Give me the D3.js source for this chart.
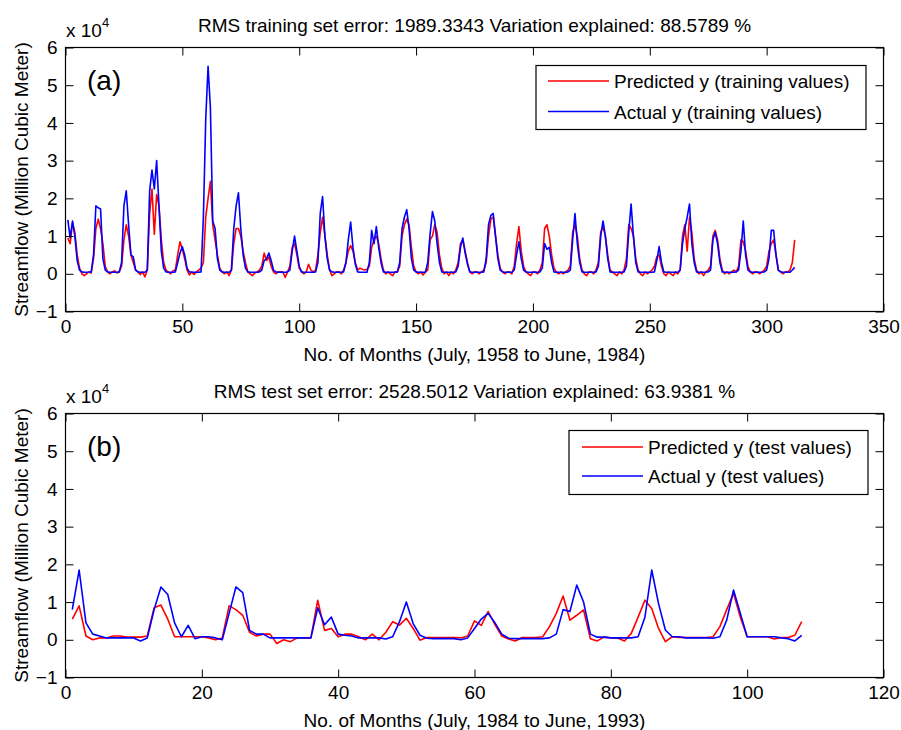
<!DOCTYPE html>
<html>
<head>
<meta charset="utf-8">
<script src="https://cdn.jsdelivr.net/npm/d3@7"></script>
<style>
  html, body { margin: 0; padding: 0; background: #fff; }
  svg { display: block; }
  text { font-family: "Liberation Sans", Arial, Helvetica, sans-serif; fill: #000; }
</style>
</head>
<body>
<svg id="chart" width="901" height="730"></svg>
<script>
// ---------------- DATA (values in units of 10^4 million cubic meter) ----------------
// Training period: July 1958 to June 1984, months 1..312 (rows of 12 months)
const trainActual = [
  1.43, 0.95, 1.40, 1.00, 0.35, 0.10, 0.05, 0.04, 0.04, 0.04, 0.05, 0.50,
  1.80, 1.75, 1.72, 0.40, 0.10, 0.05, 0.04, 0.04, 0.04, 0.04, 0.05, 0.30,
  1.80, 2.20, 1.30, 0.50, 0.45, 0.10, 0.05, 0.04, 0.04, 0.04, 0.10, 2.20,
  2.75, 2.25, 3.00, 1.80, 0.60, 0.15, 0.05, 0.04, 0.04, 0.04, 0.05, 0.30,
  0.55, 0.72, 0.50, 0.15, 0.05, 0.04, 0.04, 0.04, 0.04, 0.05, 1.50, 4.10,
  5.50, 4.40, 1.40, 1.20, 0.40, 0.10, 0.05, 0.04, 0.04, 0.04, 0.10, 1.20,
  1.80, 2.15, 1.20, 0.50, 0.15, 0.05, 0.04, 0.04, 0.04, 0.04, 0.05, 0.10,
  0.35, 0.40, 0.55, 0.35, 0.10, 0.05, 0.04, 0.04, 0.04, 0.04, 0.05, 0.10,
  0.60, 1.00, 0.60, 0.20, 0.05, 0.04, 0.04, 0.04, 0.04, 0.04, 0.05, 0.30,
  1.60, 2.05, 1.00, 0.40, 0.10, 0.05, 0.04, 0.04, 0.04, 0.04, 0.05, 0.30,
  0.90, 1.37, 0.70, 0.25, 0.05, 0.04, 0.04, 0.04, 0.04, 0.30, 1.15, 0.80,
  1.25, 0.70, 0.30, 0.05, 0.04, 0.04, 0.04, 0.04, 0.04, 0.05, 0.30, 1.20,
  1.50, 1.70, 1.20, 0.40, 0.10, 0.05, 0.04, 0.04, 0.04, 0.04, 0.30, 1.05,
  1.65, 1.40, 0.80, 0.30, 0.05, 0.04, 0.04, 0.04, 0.04, 0.04, 0.05, 0.20,
  0.70, 0.95, 0.55, 0.25, 0.05, 0.04, 0.04, 0.04, 0.04, 0.04, 0.05, 0.40,
  1.30, 1.55, 1.60, 1.00, 0.40, 0.10, 0.05, 0.04, 0.04, 0.04, 0.04, 0.10,
  0.50, 0.85, 0.40, 0.10, 0.05, 0.04, 0.04, 0.04, 0.04, 0.04, 0.05, 0.15,
  0.80, 0.65, 0.70, 0.30, 0.05, 0.04, 0.04, 0.04, 0.04, 0.04, 0.05, 0.10,
  0.90, 1.60, 0.80, 0.30, 0.05, 0.04, 0.04, 0.04, 0.04, 0.04, 0.05, 0.20,
  1.00, 1.40, 1.00, 0.40, 0.05, 0.04, 0.04, 0.04, 0.04, 0.04, 0.05, 0.20,
  1.10, 1.85, 1.00, 0.30, 0.05, 0.04, 0.04, 0.04, 0.04, 0.04, 0.04, 0.05,
  0.35, 0.72, 0.30, 0.05, 0.04, 0.04, 0.04, 0.04, 0.04, 0.04, 0.10, 0.80,
  1.20, 1.50, 1.85, 0.80, 0.30, 0.05, 0.04, 0.04, 0.04, 0.04, 0.05, 0.10,
  0.90, 1.10, 0.80, 0.30, 0.05, 0.04, 0.04, 0.04, 0.04, 0.04, 0.05, 0.10,
  0.60, 1.40, 0.50, 0.10, 0.05, 0.04, 0.04, 0.04, 0.04, 0.04, 0.05, 0.10,
  0.40, 1.15, 1.15, 0.50, 0.10, 0.05, 0.04, 0.04, 0.04, 0.04, 0.10, 0.17
];
const trainPredicted = [
  0.95, 0.80, 1.35, 1.10, 0.50, 0.15, 0.00, -0.05, 0.00, 0.05, 0.02, 0.40,
  1.20, 1.45, 1.20, 0.80, 0.20, 0.05, 0.00, 0.05, 0.08, 0.02, 0.05, 0.20,
  0.90, 1.30, 1.00, 0.50, 0.30, 0.10, 0.05, -0.02, 0.05, -0.08, 0.10, 1.60,
  2.25, 1.05, 2.10, 1.80, 0.90, 0.30, 0.10, 0.05, 0.00, 0.08, 0.10, 0.50,
  0.85, 0.65, 0.40, 0.10, -0.03, 0.05, -0.02, 0.05, 0.10, 0.15, 0.30, 1.50,
  2.00, 2.45, 1.30, 0.90, 0.50, 0.15, 0.05, 0.00, 0.05, -0.05, 0.10, 0.80,
  1.20, 1.20, 1.00, 0.60, 0.30, 0.05, 0.00, -0.05, 0.02, 0.05, 0.10, 0.20,
  0.55, 0.35, 0.45, 0.20, 0.05, 0.00, 0.05, 0.05, 0.05, -0.10, 0.05, 0.20,
  0.70, 0.80, 0.50, 0.15, 0.05, 0.00, 0.05, 0.25, 0.10, 0.05, 0.10, 0.50,
  1.10, 1.50, 1.00, 0.50, 0.10, -0.05, 0.00, 0.05, 0.05, 0.00, 0.10, 0.30,
  0.60, 0.75, 0.60, 0.30, 0.10, 0.15, 0.12, 0.10, 0.12, 0.20, 0.70, 0.90,
  1.00, 0.80, 0.40, 0.10, 0.00, 0.05, 0.00, -0.05, 0.05, 0.05, 0.20, 1.00,
  1.30, 1.45, 1.30, 0.70, 0.20, 0.05, 0.00, 0.05, -0.03, 0.05, 0.10, 0.90,
  1.00, 1.30, 1.10, 0.50, 0.15, 0.00, 0.05, -0.05, 0.05, 0.00, 0.10, 0.30,
  0.80, 0.90, 0.60, 0.30, 0.05, 0.00, 0.05, 0.05, 0.00, 0.05, 0.10, 0.30,
  1.00, 1.45, 1.50, 1.00, 0.50, 0.15, 0.05, 0.00, 0.05, 0.05, 0.00, 0.20,
  0.80, 1.25, 0.60, 0.20, 0.05, 0.00, -0.05, 0.05, 0.05, 0.00, 0.10, 0.30,
  1.20, 1.30, 1.00, 0.50, 0.15, 0.05, 0.00, 0.05, 0.00, 0.05, 0.10, 0.20,
  1.10, 1.30, 1.00, 0.40, 0.10, 0.00, -0.05, 0.05, 0.05, 0.00, 0.10, 0.30,
  1.10, 1.25, 1.00, 0.50, 0.10, 0.05, 0.00, -0.05, 0.05, 0.00, 0.10, 0.40,
  1.30, 1.20, 1.00, 0.40, 0.10, 0.00, -0.05, 0.05, 0.00, 0.05, 0.10, 0.20,
  0.45, 0.50, 0.20, 0.00, -0.05, 0.05, 0.00, -0.05, 0.05, 0.00, 0.10, 1.00,
  1.30, 0.60, 1.50, 1.10, 0.40, 0.10, 0.00, 0.05, -0.05, 0.05, 0.10, 0.20,
  1.00, 1.15, 0.90, 0.40, 0.10, 0.00, 0.05, 0.00, 0.05, 0.10, 0.05, 0.20,
  0.90, 0.85, 0.60, 0.20, 0.05, 0.00, 0.05, 0.05, 0.00, 0.05, 0.10, 0.20,
  0.60, 0.80, 0.90, 0.50, 0.10, 0.05, 0.00, 0.05, 0.05, 0.10, 0.30, 0.90
];
// Test period: July 1984 to June 1993, months 1..108
const testActual = [
  0.80, 1.85, 0.45, 0.15, 0.10, 0.05, 0.05, 0.05, 0.05, 0.05, -0.03, 0.05,
  0.80, 1.40, 1.20, 0.45, 0.08, 0.38, 0.03, 0.08, 0.08, 0.05, 0.00, 0.70,
  1.40, 1.25, 0.25, 0.15, 0.15, 0.05, 0.05, 0.05, 0.05, 0.05, 0.05, 0.05,
  0.85, 0.40, 0.60, 0.15, 0.12, 0.10, 0.05, 0.05, 0.05, 0.05, 0.02, 0.08,
  0.48, 1.00, 0.43, 0.12, 0.04, 0.03, 0.03, 0.03, 0.03, 0.00, 0.05, 0.30,
  0.55, 0.70, 0.45, 0.15, 0.04, 0.03, 0.03, 0.03, 0.03, 0.03, 0.05, 0.15,
  0.80, 0.75, 1.45, 1.00, 0.15, 0.07, 0.07, 0.05, 0.05, 0.05, 0.05, 0.08,
  0.60, 1.85, 0.96, 0.26, 0.08, 0.08, 0.05, 0.05, 0.05, 0.05, 0.04, 0.08,
  0.52, 1.32, 0.70, 0.08, 0.08, 0.08, 0.08, 0.08, 0.05, 0.03, -0.03, 0.12
];
const testPredicted = [
  0.55, 0.90, 0.10, 0.00, 0.05, 0.05, 0.10, 0.10, 0.07, 0.07, 0.07, 0.10,
  0.85, 0.92, 0.55, 0.08, 0.08, 0.08, 0.08, 0.08, 0.05, 0.00, 0.05, 0.90,
  0.80, 0.65, 0.20, 0.10, 0.15, 0.15, -0.10, 0.00, -0.05, 0.05, 0.05, 0.05,
  1.05, 0.25, 0.30, 0.08, 0.15, 0.15, 0.08, 0.00, 0.15, 0.00, 0.20, 0.48,
  0.39, 0.57, 0.30, -0.01, 0.06, 0.06, 0.06, 0.06, 0.06, 0.05, 0.10, 0.50,
  0.38, 0.75, 0.40, 0.10, 0.02, -0.03, 0.06, 0.06, 0.06, 0.08, 0.35, 0.70,
  1.16, 0.52, 0.65, 0.79, 0.03, -0.03, 0.07, 0.05, 0.05, -0.03, 0.17, 0.60,
  1.05, 0.83, 0.30, -0.05, 0.08, 0.06, 0.06, 0.06, 0.06, 0.06, 0.08, 0.35,
  0.80, 1.23, 0.60, 0.08, 0.08, 0.08, 0.08, 0.02, 0.06, 0.06, 0.12, 0.48
];

const yTicks = [-1, 0, 1, 2, 3, 4, 5, 6];
const xTicksTrain = [0, 50, 100, 150, 200, 250, 300, 350];
const xTicksTest = [0, 20, 40, 60, 80, 100, 120];

const titles = [
  "RMS training set error: 1989.3343 Variation explained: 88.5789 %",
  "RMS test set error: 2528.5012 Variation explained: 63.9381 %"
];
const xLabels = [
  "No. of Months (July, 1958 to June, 1984)",
  "No. of Months (July, 1984 to June, 1993)"
];
const yLabel = "Streamflow (Million Cubic Meter)";
const panelTags = ["(a)", "(b)"];
const legendLabels = [
  ["Predicted y (training values)", "Actual y (training values)"],
  ["Predicted y (test values)", "Actual y (test values)"]
];
const seriesColors = ["#ff0000", "#0000ff"];

// ---------------- DRAW ----------------
const svg = d3.select("#chart");
const FONT = 19;

const panels = [
  { top: 47.5, bottom: 311.5, xMax: 350, xTicks: xTicksTrain,
    series: [trainPredicted, trainActual],
    legend: { x0: 536, x1: 866, y0: 65.5, y1: 129.5, lx0: 548, lx1: 609, tx: 614, ly: [81, 111.5] } },
  { top: 413.5, bottom: 677.5, xMax: 120, xTicks: xTicksTest,
    series: [testPredicted, testActual],
    legend: { x0: 569, x1: 868, y0: 430.5, y1: 494.5, lx0: 582, lx1: 643, tx: 648, ly: [447, 476] } }
];
const left = 65.5, right = 883.5;

panels.forEach((p, i) => {
  const x = d3.scaleLinear().domain([0, p.xMax]).range([left, right]);
  const y = d3.scaleLinear().domain([-1, 6]).range([p.bottom, p.top]);
  const g = svg.append("g");

  // lines
  const line = d3.line().x((d, k) => x(k + 1)).y(d => y(d));
  p.series.forEach((s, si) => {
    g.append("path").datum(s)
      .attr("d", line)
      .attr("fill", "none")
      .attr("stroke", seriesColors[si])
      .attr("stroke-width", 1.6)
      .attr("stroke-linejoin", "round");
  });

  // axes (MATLAB-style inward ticks on all sides)
  const fmt = d3.format("d");
  const ax = (axis, tf) => axis.tickSizeInner(-8).tickSizeOuter(0).tickPadding(8);
  const bottomAx = g.append("g").attr("transform", `translate(0,${p.bottom})`)
    .call(ax(d3.axisBottom(x).tickValues(p.xTicks).tickFormat(fmt)));
  const topAx = g.append("g").attr("transform", `translate(0,${p.top})`)
    .call(ax(d3.axisTop(x).tickValues(p.xTicks).tickFormat("")));
  const leftAx = g.append("g").attr("transform", `translate(${left},0)`)
    .call(ax(d3.axisLeft(y).tickValues(yTicks).tickFormat(fmt)));
  const rightAx = g.append("g").attr("transform", `translate(${right},0)`)
    .call(ax(d3.axisRight(y).tickValues(yTicks).tickFormat("")));
  [bottomAx, topAx, leftAx, rightAx].forEach(a => {
    a.select(".domain").remove();
    a.selectAll("line").attr("stroke", "#000").attr("stroke-width", 1);
    a.selectAll("text").attr("font-size", FONT).attr("font-family", null).attr("fill", "#000");
  });
  bottomAx.selectAll("text").attr("dy", "0.72em");

  // box
  g.append("rect")
    .attr("x", left).attr("y", p.top)
    .attr("width", right - left).attr("height", p.bottom - p.top)
    .attr("fill", "none").attr("stroke", "#000").attr("stroke-width", 1.2);

  // title
  const cx = (left + right) / 2;
  g.append("text").attr("x", cx).attr("y", p.top - 16)
    .attr("text-anchor", "middle").attr("font-size", FONT).text(titles[i]);

  // x label
  g.append("text").attr("x", cx).attr("y", p.bottom + 49)
    .attr("text-anchor", "middle").attr("font-size", FONT).text(xLabels[i]);

  // y label
  g.append("text")
    .attr("transform", `translate(28,${(p.top + p.bottom) / 2}) rotate(-90)`)
    .attr("text-anchor", "middle").attr("font-size", FONT).text(yLabel);

  // exponent
  const ex = g.append("text").attr("x", 66).attr("y", p.top - 11).attr("font-size", FONT);
  ex.append("tspan").text("x 10");
  ex.append("tspan").attr("font-size", 13).attr("dy", -10).text("4");

  // panel tag
  g.append("text").attr("x", 87).attr("y", p.top + 42)
    .attr("font-size", 28).text(panelTags[i]);

  // legend
  const L = p.legend;
  g.append("rect").attr("x", L.x0).attr("y", L.y0)
    .attr("width", L.x1 - L.x0).attr("height", L.y1 - L.y0)
    .attr("fill", "#fff").attr("stroke", "#000").attr("stroke-width", 1.2);
  legendLabels[i].forEach((lab, k) => {
    g.append("line").attr("x1", L.lx0).attr("x2", L.lx1)
      .attr("y1", L.ly[k]).attr("y2", L.ly[k])
      .attr("stroke", seriesColors[k]).attr("stroke-width", 1.6);
    g.append("text").attr("x", L.tx).attr("y", L.ly[k] + 7)
      .attr("font-size", FONT).text(lab);
  });
});
</script>
</body>
</html>
